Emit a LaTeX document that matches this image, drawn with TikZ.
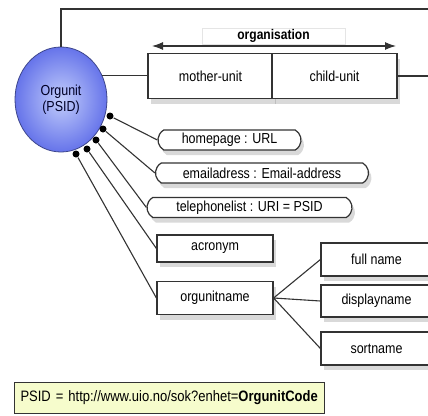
\documentclass[tikz,border=0pt]{standalone}
\usepackage{fontspec}
\setmainfont{Liberation Sans}[FakeStretch=0.86]
\usetikzlibrary{arrows.meta,shadows,shapes.geometric,shapes.misc}
\definecolor{kugel}{HTML}{6674EA}
\definecolor{kugelhell}{HTML}{C2CDFB}
\definecolor{notiz}{HTML}{F6FCCC}
\definecolor{rand}{HTML}{333333}

\begin{document}
\begin{tikzpicture}[x=1pt, y=-1pt, line width=1.1pt, draw=rand,
    font=\fontsize{14.5}{16}\selectfont,
    box/.style={rectangle, draw=rand, line width=1.2pt, fill=white, inner sep=0pt,
        drop shadow={shadow xshift=3pt, shadow yshift=-5pt, opacity=0.3}},
    attr/.style={rounded rectangle, rounded rectangle arc length=120, draw=rand, line width=1.2pt, fill=white, inner sep=0pt,
        minimum height=20pt, drop shadow={shadow xshift=3pt, shadow yshift=-5pt, opacity=0.3}},
    dot/.style={circle, fill=black, inner sep=0pt, minimum size=7pt}]
    \useasboundingbox (0,0) rectangle (428,415);

    \node (org) [ellipse, draw=kugel!60!black, line width=0.8pt, inner color=kugelhell, outer color=kugel,
        minimum width=92pt, minimum height=105pt, inner sep=0pt, align=center, text=black!85!blue] at (61,99.5) {Orgunit\\(PSID)};

    \node (orglabel) [rectangle, draw=gray!20, line width=0.6pt, fill=white, inner sep=0pt, minimum width=143pt, minimum height=16pt,
        font=\fontsize{14}{16}\selectfont\bfseries] at (273.5,36) {organisation};
    \coordinate (arrowL) at (152,46);
    \coordinate (arrowR) at (396,46);
    \node (mother) [box, minimum width=125pt, minimum height=45pt] at (210.5,76) {mother-unit};
    \node (child) [box, minimum width=125pt, minimum height=45pt] at (334.5,76) {child-unit};
    \coordinate (topend) at (430,9);
    \coordinate (childend) at (430,76);

    \node (homepage) [attr, minimum width=143pt] at (229.5,140) {homepage : URL};
    \node (email) [attr, minimum width=213pt] at (262,173) {emailadress : Email-address};
    \node (phone) [attr, minimum width=205pt] at (249.5,207.5) {telephonelist : URI = PSID};
    \node (acronym) [box, minimum width=116pt, minimum height=27pt] at (215,248.5) {acronym};
    \node (orgname) [box, minimum width=116pt, minimum height=33pt] at (215,298) {orgunitname};

    \node (fullname) [box, minimum width=111pt, minimum height=33pt] at (376.5,259.5) {full name};
    \node (display) [box, minimum width=111pt, minimum height=32pt] at (376.5,301) {displayname};
    \node (sortname) [box, minimum width=111pt, minimum height=33pt] at (376.5,348.5) {sortname};

    \node (d1) [dot] at (110,116) {};
    \node (d2) [dot] at (103,129) {};
    \node (d3) [dot] at (96,140) {};
    \node (d4) [dot] at (87,149) {};
    \node (d5) [dot] at (76,154) {};

    \node (psid) [rectangle, draw=rand, line width=1pt, fill=notiz, anchor=west, text width=298pt, align=left,
        inner xsep=6pt, minimum height=31pt, font=\fontsize{15.1}{17}\selectfont] at (14,397.5) {PSID = http://www.uio.no/sok?enhet=\textbf{OrgunitCode}};

    % Verbindungen
    \draw (org.north) |- (topend);
    \draw (org.30) -- (org.30 -| mother.west);
    \draw (child.east) -- (childend);
    \draw[{Latex[length=11pt,width=8pt]}-{Latex[length=11pt,width=8pt]}] (arrowL) -- (arrowR);
    \draw (d1) -- (homepage.west);
    \draw (d2) -- (email.west);
    \draw (d3) -- (phone.west);
    \draw (d4) -- (acronym.west);
    \draw (d5) -- (orgname.west);
    \draw (orgname.east) -- (fullname.west);
    \draw (orgname.east) -- (display.west);
    \draw (orgname.east) -- (sortname.west);
\end{tikzpicture}
\end{document}
